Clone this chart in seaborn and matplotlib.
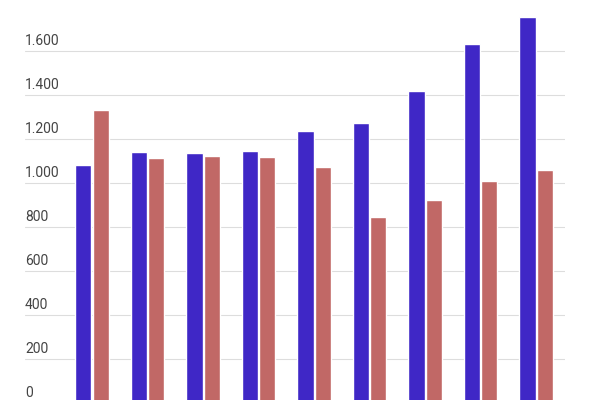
import matplotlib
matplotlib.use("Agg")
import matplotlib.pyplot as plt
import seaborn as sns
import pandas as pd

categories = [f"G{i+1}" for i in range(9)]
series_a = [1082, 1141, 1136, 1145, 1236, 1273, 1418, 1632, 1755]
series_b = [1332, 1114, 1123, 1118, 1073, 845, 923, 1009, 1059]
yticks = [0, 200, 400, 600, 800, 1000, 1200, 1400, 1600]
ytick_labels = ["0", "200", "400", "600", "800", "1.000", "1.200", "1.400", "1.600"]

df = pd.DataFrame({
    "cat": categories * 2,
    "value": series_a + series_b,
    "series": ["A"] * 9 + ["B"] * 9,
})

sns.set_style("white")
plt.rcParams["font.family"] = ["Roboto", "DejaVu Sans"]
fig = plt.figure(figsize=(6, 4), dpi=100)
ax = fig.add_axes([25/600, -3/400, 540/600, 396/400])
sns.barplot(data=df, x="cat", y="value", hue="series", palette=["#2c0ce0", "#d05a57"],
            width=0.62, gap=0.06, ax=ax, legend=False)
ax.set_xlim(-1.207, 8.52)
ax.set_ylim(0, 1800)
for t, lab in zip(yticks, ytick_labels):
    ax.axhline(t, color="#dddddd", lw=0.8, zorder=0)
    ax.text(0, t + 15, lab, transform=ax.get_yaxis_transform(), ha="left", va="bottom",
            fontsize=10, color="#444444")
ax.set_yticks([]); ax.set_xticks([])
ax.set_xlabel(""); ax.set_ylabel("")
for s in ax.spines.values():
    s.set_visible(False)
ax.set_axisbelow(True)
fig.savefig("out.png", dpi=100)
